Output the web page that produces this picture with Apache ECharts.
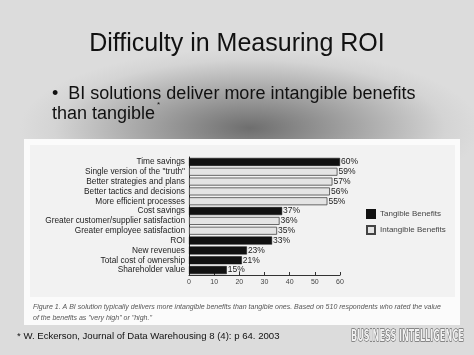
<!DOCTYPE html>
<html><head><meta charset="utf-8">
<script src="https://cdn.jsdelivr.net/npm/echarts@6/dist/echarts.min.js"></script>
<style>
html,body{margin:0;padding:0;}
#c{width:474px;height:355px;background:radial-gradient(ellipse 230px 80px at 250px 128px,#6e6e6e 0%,#a4a4a4 45%,#d4d4d4 85%,#dcdcdc 100%);}
</style></head>
<body><div id="c"></div>
<script>
const categories = ['Time savings','Single version of the "truth"','Better strategies and plans','Better tactics and decisions','More efficient processes','Cost savings','Greater customer/supplier satisfaction','Greater employee satisfaction','ROI','New revenues','Total cost of ownership','Shareholder value'];
const tangible = [60,'-','-','-','-',37,'-','-',33,23,21,15];
const intangible = ['-',59,57,56,55,'-',36,35,'-','-','-','-'];
const xTicks = [0,10,20,30,40,50,60];
const seriesNames = ['Tangible Benefits','Intangible Benefits'];

const chart = echarts.init(document.getElementById('c'));
const arial = '"Liberation Sans",Arial,sans-serif';
chart.setOption({
  animation:false,
  title:{text:'Difficulty in Measuring ROI',left:'center',top:27,textStyle:{fontFamily:arial,fontSize:25,fontWeight:'normal',color:'#111'}},
  graphic:[
    {type:'rect',shape:{x:24,y:139,width:436,height:186},style:{fill:'#fbfbfb'},z:-10},
    {type:'rect',shape:{x:30,y:145,width:425,height:152},style:{fill:'#f2f2f2'},z:-9},
    {type:'text',x:52,y:94,style:{text:'•  BI solutions deliver more intangible benefits',font:'18px "Liberation Sans",Arial,sans-serif',fill:'#111',verticalAlign:'middle'}},
    {type:'text',x:52,y:114,style:{text:'than tangible',font:'18px "Liberation Sans",Arial,sans-serif',fill:'#111',verticalAlign:'middle'}},
    {type:'text',x:157,y:105,style:{text:'*',font:'8px "Liberation Sans",Arial,sans-serif',fill:'#111',verticalAlign:'middle'}},
    {type:'text',x:33,y:307,style:{text:'Figure 1. A BI solution typically delivers more intangible benefits than tangible ones. Based on 510 respondents who rated the value',font:'italic 7px "Liberation Sans",Arial,sans-serif',fill:'#555',verticalAlign:'middle'}},
    {type:'text',x:33,y:318,style:{text:'of the benefits as "very high" or "high."',font:'italic 7px "Liberation Sans",Arial,sans-serif',fill:'#555',verticalAlign:'middle'}},
    {type:'text',x:17,y:336,style:{text:'* W. Eckerson, Journal of Data Warehousing 8 (4): p 64. 2003',font:'9.6px "Liberation Sans",Arial,sans-serif',fill:'#111',verticalAlign:'middle'}},
    {type:'text',x:351,y:337,scaleX:0.54,style:{text:'BUSINESS INTELLIGENCE',font:'bold 15px "DejaVu Sans",sans-serif',fill:'#f0f0f0',stroke:'#333',lineWidth:1,verticalAlign:'middle'}}
  ],
  legend:{orient:'vertical',left:361,top:204,itemWidth:8,itemHeight:8,itemGap:6,icon:'rect',
    textStyle:{fontFamily:arial,fontSize:8,color:'#444'},data:seriesNames},
  grid:{left:189,top:157,width:151,height:118,containLabel:false},
  xAxis:{type:'value',min:0,max:60,interval:10,
    axisLine:{show:true,lineStyle:{color:'#333',width:1}},
    axisTick:{show:true,inside:true,length:3,lineStyle:{color:'#333'}},
    splitLine:{show:false},
    axisLabel:{fontFamily:arial,fontSize:7,color:'#444',margin:4,
      formatter:v=>xTicks.includes(v)?String(v):''}},
  yAxis:{type:'category',inverse:true,data:categories,
    axisLine:{show:true,lineStyle:{color:'#222',width:1}},
    axisTick:{show:false},
    axisLabel:{interval:0,fontFamily:arial,fontSize:8.3,color:'#222',margin:4}},
  series:[
    {name:seriesNames[0],type:'bar',stack:'s',barWidth:8,data:tangible,
     itemStyle:{color:'#111',borderColor:'#111',borderWidth:0.5},
     label:{show:true,position:'right',distance:1,formatter:'{c}%',fontFamily:arial,fontSize:8.5,color:'#222'}},
    {name:seriesNames[1],type:'bar',stack:'s',barWidth:8,data:intangible,
     itemStyle:{color:'#e4e4e4',borderColor:'#444',borderWidth:0.8},
     label:{show:true,position:'right',distance:1,formatter:'{c}%',fontFamily:arial,fontSize:8.5,color:'#222'}}
  ]
});
</script></body></html>
